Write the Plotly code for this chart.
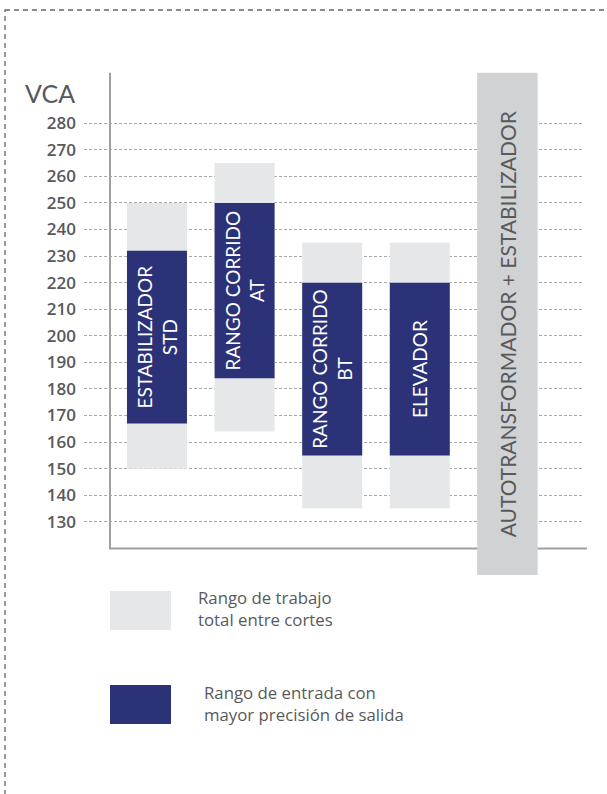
import plotly.graph_objects as go

# ---- data ----
categories = ["STD", "AT", "BT", "ELEV", "AUTO"]
bar_labels = ["ESTABILIZADOR<br>STD", "RANGO CORRIDO<br>AT", "RANGO CORRIDO<br>BT", "ELEVADOR"]
total_low = [150, 164, 135, 135]
total_high = [250, 265, 235, 235]
precise_low = [167, 184, 155, 155]
precise_high = [232, 250, 220, 220]
auto_label = "AUTOTRANSFORMADOR + ESTABILIZADOR"
auto_low = 110
auto_high = 299
tick_values = [130, 140, 150, 160, 170, 180, 190, 200, 210, 220, 230, 240, 250, 260, 270, 280]
axis_label = "VCA"
legend_texts = ["Rango de trabajo<br>total entre cortes",
                "Rango de entrada con<br>mayor precisión de salida"]

# ---- style ----
W, H = 607, 794
ML, MR, MT, MB = 84, 24, 70, 219
PW, PH = W - ML - MR, H - MT - MB
LIGHT = "#e6e7e8"
DARK = "#2b3278"
AUTO = "#d1d2d4"
TXT = "#58595b"
LINE = "#a0a0a2"

def xp(px):
    return (px - ML) / PW

def yp(py):
    return (H - MB - py) / PH

cats4 = categories[:4]
fig = go.Figure()
fig.add_trace(go.Bar(
    x=cats4, y=[h - l for l, h in zip(total_low, total_high)], base=total_low,
    marker=dict(color=LIGHT, line=dict(width=0)), width=0.685,
    hoverinfo="skip", showlegend=False))
fig.add_trace(go.Bar(
    x=cats4, y=[h - l for l, h in zip(precise_low, precise_high)], base=precise_low,
    marker=dict(color=DARK, line=dict(width=0)), width=0.685,
    text=bar_labels, textposition="inside", insidetextanchor="middle",
    textangle=-90, textfont=dict(family="Lato", size=19, color="white"),
    hoverinfo="skip", showlegend=False))
fig.add_trace(go.Bar(
    x=[categories[4]], y=[auto_high - auto_low], base=[auto_low],
    marker=dict(color=AUTO, line=dict(width=0)), width=0.69,
    text=[auto_label], textposition="inside", insidetextanchor="middle",
    textangle=-90, textfont=dict(family="Lato", size=21, color=TXT),
    hoverinfo="skip", showlegend=False))

shapes = []
# axis lines
shapes.append(dict(type="line", xref="paper", yref="y", x0=xp(110), x1=xp(110),
                   y0=120, y1=299, line=dict(color=LINE, width=2), layer="between"))
shapes.append(dict(type="line", xref="paper", yref="y", x0=xp(109), x1=xp(587),
                   y0=120, y1=120, line=dict(color=LINE, width=2), layer="between"))
# dashed border
shapes.append(dict(type="rect", xref="paper", yref="paper", x0=xp(5), x1=xp(700),
                   y0=yp(10), y1=yp(900), line=dict(color="#666666", width=1.3, dash="5px,4px")))
# legend swatches
shapes.append(dict(type="rect", xref="paper", yref="paper", x0=xp(110), x1=xp(171),
                   y0=yp(591), y1=yp(630), fillcolor=LIGHT, line=dict(width=0)))
shapes.append(dict(type="rect", xref="paper", yref="paper", x0=xp(110), x1=xp(171),
                   y0=yp(685), y1=yp(724), fillcolor=DARK, line=dict(width=0)))

annotations = [
    dict(text=axis_label, xref="paper", yref="paper", x=xp(77), y=yp(93),
         xanchor="right", yanchor="middle", showarrow=False,
         font=dict(family="Lato", size=25, color=TXT)),
    dict(text=legend_texts[0], xref="paper", yref="paper", x=xp(196), y=yp(608),
         xanchor="left", yanchor="middle", align="left", showarrow=False,
         font=dict(family="Open Sans", size=16.8, color=TXT)),
    dict(text=legend_texts[1], xref="paper", yref="paper", x=xp(202), y=yp(703),
         xanchor="left", yanchor="middle", align="left", showarrow=False,
         font=dict(family="Open Sans", size=16.8, color=TXT)),
]

fig.update_layout(
    width=W, height=H, margin=dict(l=ML, r=MR, t=MT, b=MB),
    paper_bgcolor="white", plot_bgcolor="white",
    barmode="overlay", showlegend=False,
    shapes=shapes, annotations=annotations,
    xaxis=dict(type="category", range=[-0.833, 4.863], showticklabels=False,
               showgrid=False, zeroline=False, showline=False, fixedrange=True),
    yaxis=dict(range=[110, 300], tickvals=tick_values, showgrid=True,
               gridcolor="#a7a9ac", griddash="3px,2px", gridwidth=1.2,
               zeroline=False, showline=False, ticks="",
               ticklabelstandoff=7,
               tickfont=dict(family="Open Sans", size=17, color=TXT, weight=600)),
)

fig.write_html("out.html")
